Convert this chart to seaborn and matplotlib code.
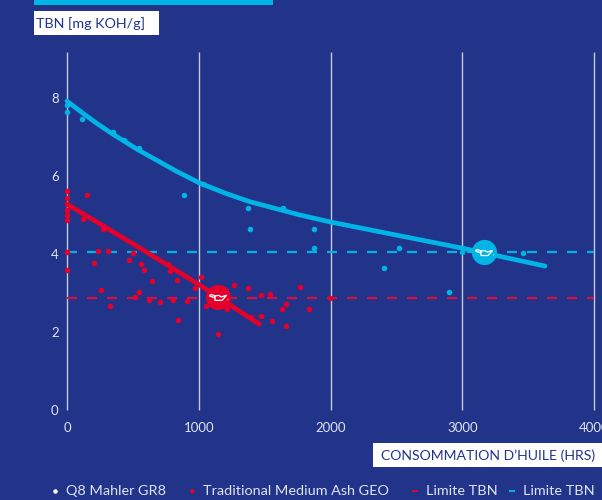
import matplotlib
matplotlib.use("Agg")
import matplotlib.pyplot as plt
from matplotlib.lines import Line2D
from matplotlib.patches import Rectangle
from matplotlib.path import Path
import pandas as pd
import seaborn as sns

# values
red_x = [3, 0, 202, 235, 309, 256, 329, 468, 503, 564, 587, 643, 544, 514, 625, 708, 807, 913, 845, 769, 782, 832,
         1019, 969, 1055, 1144, 1268, 1371, 1473, 1541, 1212, 1394, 1473, 1553, 1662, 1632, 1662, 1768, 1837, 1996,
         0, 0, 0, 0, 0, 0, 152, 121, 276]
red_y = [3.6, 4.05, 3.78, 4.07, 4.07, 3.08, 2.67, 3.85, 4.02, 3.75, 3.6, 3.3, 3.03, 2.9, 2.83, 2.78, 2.83, 2.8, 2.32, 3.75, 3.56, 3.33,
         3.41, 3.12, 2.67, 1.96, 3.2, 3.12, 2.96, 2.97, 2.6, 2.38, 2.41, 2.28, 2.73, 2.58, 2.16, 3.15, 2.59, 2.87,
         5.62, 5.43, 5.28, 5.14, 4.99, 4.87, 5.5, 4.9, 4.63]
blue_x = [0, 0, 116, 349, 435, 544, 890, 1035, 1371, 1391, 1637, 1875, 1875, 2517, 2403, 2902, 3459, 3000]
blue_y = [7.81, 7.63, 7.45, 7.13, 6.93, 6.71, 5.5, 5.79, 5.17, 4.64, 5.17, 4.64, 4.15, 4.15, 3.65, 3.02, 4.03, 4.05]

blue_curve_x = [0, 116, 230, 349, 540, 832, 1000, 1200, 1389, 1768, 2000, 3000, 3628]
blue_curve_y = [7.92, 7.62, 7.34, 7.07, 6.67, 6.12, 5.83, 5.56, 5.34, 5.0, 4.82, 4.15, 3.69]
red_curve_x = [0, 579, 1000, 1460]
red_curve_y = [5.28, 4.1, 3.22, 2.2]

limit_x = [0, 4000]
limit_blue = [4.05, 4.05]
limit_red = [2.87, 2.87]

change_x = [1146, 3165]
change_y = [2.9, 4.05]

x_ticks = [0, 1000, 2000, 3000, 4000]
y_ticks = [0, 2, 4, 6, 8]
legend_labels = ["Q8 Mahler GR8", "Traditional Medium Ash GEO", "Limite TBN", "Limite TBN"]

NAVY = "#22338a"
CYAN = "#00b4e6"
RED = "#e4002b"
TXT = "#dfe3f1"
GRID = "#c5c9e0"

sns.set_style("white")
plt.rcParams["font.family"] = ["Lato", "DejaVu Sans"]

W, H = 602, 500
fig = plt.figure(figsize=(W / 100, H / 100), dpi=100, facecolor=NAVY)
ax = fig.add_axes([67 / W, 1 - 410 / H, (W - 67) / W, 358 / H], facecolor=NAVY)

ax.vlines(x_ticks, 0, 9.18, color=GRID, lw=1.0, zorder=1, clip_on=False)

sns.lineplot(x=limit_x, y=limit_blue, ax=ax, color=CYAN, lw=1.6, dashes=(4.5, 4.5), zorder=2)
sns.lineplot(x=limit_x, y=limit_red, ax=ax, color="#d8103f", lw=1.6, dashes=(4.5, 4.5), zorder=2)

red_df = pd.DataFrame({"x": red_x, "y": red_y})
blue_df = pd.DataFrame({"x": blue_x, "y": blue_y})
sns.scatterplot(data=red_df, x="x", y="y", ax=ax, color=RED, s=16, linewidth=0, zorder=3, clip_on=False)
sns.scatterplot(data=blue_df, x="x", y="y", ax=ax, color=CYAN, s=16, linewidth=0, zorder=3, clip_on=False)

for cx, cy, col in [(red_curve_x, red_curve_y, RED), (blue_curve_x, blue_curve_y, CYAN)]:
    line = sns.lineplot(x=cx, y=cy, ax=ax, color=col, lw=3.4, zorder=4, estimator=None)
    line.lines[-1].set_solid_capstyle("round")
    line.lines[-1].set_clip_on(False)

# oil change markers with the little can on top
for px, py, col in zip(change_x, change_y, [RED, CYAN]):
    ax.scatter([px], [py], s=330, color=col, linewidth=0, zorder=5)

can = Path([(-3, 1), (-3, -3.5), (4, -3.5), (8.5, 1.5), (3, 0), (1, 1.5), (-3, 1),
            (-3, 1), (-7, 2.5), (-8.5, 1), (-3, -1),
            (9.5, -2.5), (10, -3)],
           [1, 2, 2, 2, 2, 2, 2,
            1, 2, 2, 2,
            1, 2])
ax.scatter(change_x, change_y, s=207, marker=can, facecolor="none", edgecolor="white", linewidth=0.9, zorder=6)

ax.set_xlim(0, (W - 67) / 0.13175)
ax.set_ylim(0, 358 / 39)
ax.set_xticks(x_ticks)
ax.set_yticks(y_ticks)
ax.tick_params(length=0, labelsize=9.5, labelcolor=TXT)
ax.tick_params(axis="x", pad=8.5)
ax.tick_params(axis="y", pad=6)
ax.set_xlabel("")
ax.set_ylabel("")
sns.despine(ax=ax, left=True, bottom=True, top=True, right=True)


def fx(p):
    return p / W


def fy(p):
    return 1 - p / H


# top bar and the two white label boxes
fig.add_artist(Rectangle((fx(34), fy(5)), 239 / W, 5 / H, transform=fig.transFigure, color=CYAN, lw=0))
fig.add_artist(Rectangle((fx(34), fy(35)), 125 / W, 24 / H, transform=fig.transFigure, color="white", lw=0))
fig.add_artist(Rectangle((fx(373), fy(467)), 229 / W, 24 / H, transform=fig.transFigure, color="white", lw=0))
fig.text(fx(36), fy(24), "TBN [mg KOH/g]", color=NAVY, fontsize=10.3, va="center")
fig.text(fx(381), fy(456), "CONSOMMATION D\u2019HUILE (HRS)", color=NAVY, fontsize=10.1, va="center")

# legend along the bottom
leg_text_x = [66, 203, 426, 523]
leg_mark_x = [55, 192, 415, 512]
leg_cols = ["white", RED, RED, CYAN]
leg_marks = ["o", "o", "_", "_"]
for lab, tx, mx, col, m in zip(legend_labels, leg_text_x, leg_mark_x, leg_cols, leg_marks):
    fig.text(fx(tx), fy(491), lab, color=TXT, fontsize=10.4, va="center")
    fig.add_artist(Line2D([fx(mx)], [fy(491)], transform=fig.transFigure, marker=m, color=col,
                          markersize=3.2 if m == "o" else 4.5, markeredgewidth=1.4 if m == "_" else 0, linestyle="none"))

fig.savefig("out.png", dpi=100, facecolor=NAVY)
